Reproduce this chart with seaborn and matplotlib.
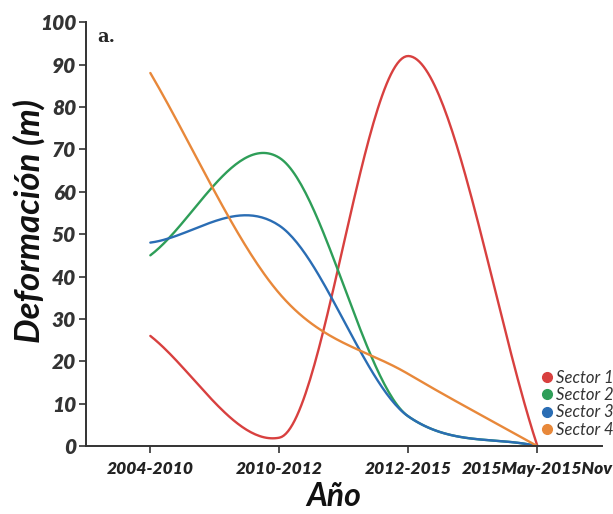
import numpy as np
import pandas as pd
import matplotlib
matplotlib.use("Agg")
import matplotlib.pyplot as plt
import seaborn as sns
from matplotlib.lines import Line2D

# --- data ---
periodos = ["2004-2010", "2010-2012", "2012-2015", "2015May-2015Nov"]
sector1 = [26, 2, 92, 0]
sector2 = [45, 68, 7, 0]
sector3 = [48, 52, 7, 0]
sector4 = [88, 36, 17, 0]
sectores = ["Sector 1", "Sector 2", "Sector 3", "Sector 4"]
colores = ["#d8403f", "#2e9e58", "#2a6db4", "#e8883a"]


def suavizar(y, n=60):
    # smoothed line (cardinal bezier through the points),
    # tangents shortened so the curve does not dip below 0
    y = np.asarray(y, float)
    k = len(y)
    m = np.zeros(k)
    for i in range(k):
        if i == 0:
            m[i] = y[1] - y[0]
        elif i == k - 1:
            m[i] = y[i] - y[i - 1]
        else:
            m[i] = (y[i + 1] - y[i - 1]) / 2
    for i in range(k):
        if i > 0 and y[i] - m[i] / 3 < 0:
            m[i] = 3 * y[i]
        if i < k - 1 and y[i] + m[i] / 3 < 0:
            m[i] = -3 * y[i]
    t = np.linspace(0, 1, n)
    xs, ys = [], []
    for i in range(k - 1):
        p0, p3 = y[i], y[i + 1]
        p1 = p0 + m[i] / 3
        p2 = p3 - m[i + 1] / 3
        ys.append((1 - t) ** 3 * p0 + 3 * (1 - t) ** 2 * t * p1 + 3 * (1 - t) * t ** 2 * p2 + t ** 3 * p3)
        xs.append(i + t)
    return np.concatenate(xs), np.concatenate(ys)


filas = []
for nombre, vals in zip(sectores, [sector1, sector2, sector3, sector4]):
    cx, cy = suavizar(vals)
    for xx, yy in zip(cx, cy):
        filas.append({"x": xx, "y": yy, "sector": nombre})
df = pd.DataFrame(filas)

sns.set_style("white")
plt.rcParams["font.family"] = ["Lato", "DejaVu Sans"]

fig = plt.figure(figsize=(6.13, 5.14), dpi=100)
ax = fig.add_axes([0.140, 0.132, 0.842, 0.825])

sns.lineplot(data=df, x="x", y="y", hue="sector", palette=colores,
             sort=False, estimator=None, linewidth=1.7, ax=ax, legend=False)

ax.set_xlim(-0.5, 3.5)
ax.set_ylim(0, 100)
ax.set_xticks(range(len(periodos)))
ax.set_xticklabels(periodos, fontsize=12.5, fontweight="heavy", style="italic", color="#222222")
ax.set_yticks(range(0, 101, 10))
ax.set_yticklabels([str(v) for v in range(0, 101, 10)], fontsize=15,
                   fontweight="heavy", style="italic", color="#333333")
ax.tick_params(axis="both", direction="out", length=5, width=1.2,
               color="#333333", left=True, bottom=True)
ax.tick_params(axis="y", pad=2)
ax.tick_params(axis="x", pad=6)

for s in ["top", "right"]:
    ax.spines[s].set_visible(False)
for s in ["left", "bottom"]:
    ax.spines[s].set_color("#333333")
    ax.spines[s].set_linewidth(1.4)

ax.set_xlabel("Año", fontsize=23, fontweight="bold", style="italic", color="#111111")
ax.xaxis.set_label_coords(0.48, -0.085)
ax.set_ylabel("Deformación (m)", fontsize=25, fontweight="bold", style="italic", color="#111111")
ax.yaxis.set_label_coords(-0.078, 0.53)

ax.text(0.022, 0.985, "a.", transform=ax.transAxes, fontsize=13,
        fontweight="bold", family="DejaVu Serif", va="top", ha="left")

handles = [Line2D([], [], marker="o", linestyle="", markersize=7,
                  markerfacecolor=c, markeredgecolor=c) for c in colores]
ax.legend(handles, sectores, loc="lower left", bbox_to_anchor=(0.878, 0.02),
          frameon=False, handletextpad=0.0, labelspacing=0.08,
          handlelength=1.0, borderaxespad=0, borderpad=0,
          prop={"size": 12, "style": "italic"}, labelcolor="#333333")

fig.savefig("out.png", dpi=100)
